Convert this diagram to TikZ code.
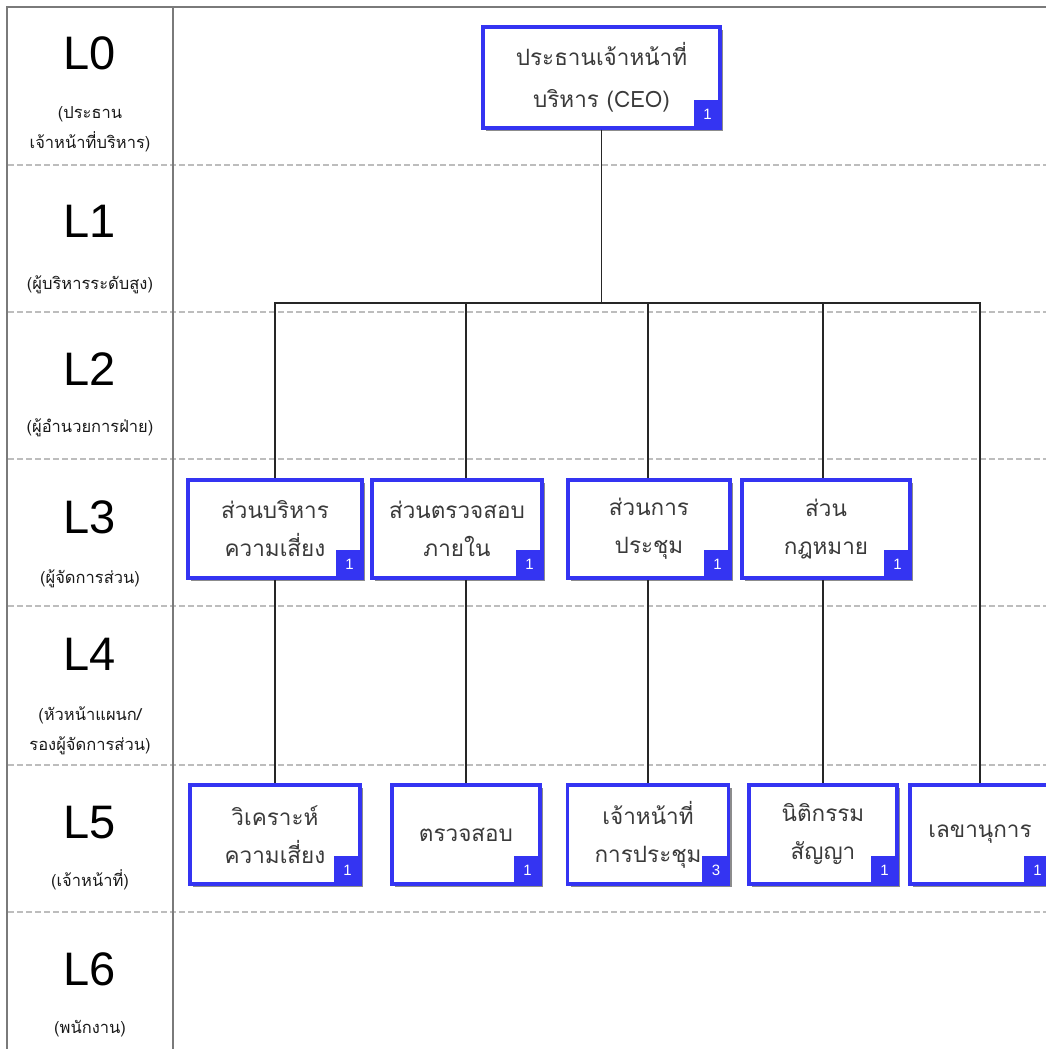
\documentclass[tikz,border=0pt]{standalone}
\usepackage{fontspec}
\setmainfont{Liberation Sans}
\newfontfamily\thai[Script=Thai]{Loma}
\usetikzlibrary{shadows}

\definecolor{unitblue}{HTML}{3434F2}
\definecolor{framegray}{HTML}{7A7A7A}
\definecolor{sepgray}{HTML}{BDBDBD}
\definecolor{labelgray}{HTML}{3A3A3A}

\tikzset{
  frame/.style={draw=framegray, line width=2pt},
  levelsep/.style={draw=sepgray, line width=1.4pt, dash pattern=on 6pt off 3pt},
  levelname/.style={anchor=base, text=black, font=\fontsize{47}{47}\selectfont},
  levelnote/.style={anchor=base, text=black!90, font=\thai\fontsize{16.5}{16.5}\selectfont},
  unit/.style={draw=unitblue, line width=3.5pt, fill=white, align=center,
    text=labelgray, inner sep=0pt,
    font=\thai\fontsize{22.5}{38}\selectfont,
    drop shadow={shadow xshift=3pt, shadow yshift=-3pt, fill=black, opacity=0.45}},
  badge/.style={fill=unitblue, text=white, anchor=south east, inner sep=0pt,
    minimum width=28pt, minimum height=30pt, font=\fontsize{15}{15}\selectfont},
  link/.style={draw=black!85, line width=1.5pt}
}

\begin{document}
\begin{tikzpicture}[x=1pt,y=1pt]
\useasboundingbox (0,0) rectangle (1046,-1049);
\clip (0,0) rectangle (1046,-1049);
\fill[white] (0,0) rectangle (1046,-1049);

% level grid
\foreach \yy in {165,312,459,606,765,912}
  \draw[levelsep] (8,-\yy) -- (1046,-\yy);
\draw[frame] (7,-1049) -- (7,-7) -- (1046,-7);
\draw[frame] (173,-7) -- (173,-1049);

% level captions
\node[levelname] (l0) at (90,-70) {L0};
\node[levelnote] (l0a) at (90,-118) {(ประธาน};
\node[levelnote] (l0b) at (90,-148) {เจ้าหน้าที่บริหาร)};
\node[levelname] (l1) at (90,-237) {L1};
\node[levelnote] (l1a) at (90,-289) {(ผู้บริหารระดับสูง)};
\node[levelname] (l2) at (90,-385) {L2};
\node[levelnote] (l2a) at (90,-432) {(ผู้อำนวยการฝ่าย)};
\node[levelname] (l3) at (90,-533) {L3};
\node[levelnote] (l3a) at (90,-583) {(ผู้จัดการส่วน)};
\node[levelname] (l4) at (90,-670) {L4};
\node[levelnote] (l4a) at (90,-720) {(หัวหน้าแผนก/};
\node[levelnote] (l4b) at (90,-750) {รองผู้จัดการส่วน)};
\node[levelname] (l5) at (90,-838) {L5};
\node[levelnote] (l5a) at (90,-886) {(เจ้าหน้าที่)};
\node[levelname] (l6) at (90,-985) {L6};
\node[levelnote] (l6a) at (90,-1033) {(พนักงาน)};

% units
\node[unit, minimum width=237pt, minimum height=101pt,
  font=\thai\fontsize{22.5}{42}\selectfont] (ceo) at (601.5,-77.5)
  {ประธานเจ้าหน้าที่\\บริหาร (CEO)};

\node[unit, minimum width=174pt, minimum height=98pt] (s1) at (275,-529)
  {ส่วนบริหาร\\ความเสี่ยง};
\node[unit, minimum width=170pt, minimum height=98pt] (s2) at (457,-529)
  {ส่วนตรวจสอบ\\ภายใน};
\node[unit, minimum width=162pt, minimum height=98pt] (s3) at (649,-529)
  {ส่วนการ\\ประชุม};
\node[unit, minimum width=168pt, minimum height=98pt] (s4) at (826,-529)
  {ส่วน\\กฎหมาย};

\node[unit, minimum width=170pt, minimum height=99pt] (e1) at (275,-834.5)
  {วิเคราะห์\\ความเสี่ยง};
\node[unit, minimum width=148pt, minimum height=99pt] (e2) at (466,-834.5)
  {ตรวจสอบ};
\node[unit, minimum width=161pt, minimum height=99pt] (e3) at (648,-834.5)
  {เจ้าหน้าที่\\การประชุม};
\node[unit, minimum width=148pt, minimum height=99pt] (e4) at (823,-834.5)
  {นิติกรรม\\สัญญา};
\node[unit, minimum width=140pt, minimum height=99pt] (e5) at (980,-834.5)
  {เลขานุการ};

% head-count badges
\node[badge] (bceo) at (ceo.south east) {1};
\node[badge] (bs1) at (s1.south east) {1};
\node[badge] (bs2) at (s2.south east) {1};
\node[badge] (bs3) at (s3.south east) {1};
\node[badge] (bs4) at (s4.south east) {1};
\node[badge] (be1) at (e1.south east) {1};
\node[badge] (be2) at (e2.south east) {1};
\node[badge] (be3) at (e3.south east) {3};
\node[badge] (be4) at (e4.south east) {1};
\node[badge] (be5) at (e5.south east) {1};

% reporting lines
\coordinate (bus) at (0,-303);
\draw[link] (ceo.south) |- (bus -| e1.north) -- (s1.north -| e1.north);
\draw[link] (ceo.south) |- (bus -| e2.north) -- (s2.north -| e2.north);
\draw[link] (ceo.south) |- (bus -| e3.north) -- (s3.north -| e3.north);
\draw[link] (ceo.south) |- (bus -| e4.north) -- (s4.north -| e4.north);
\draw[link] (ceo.south) |- (bus -| e5.north) -- (e5.north);
\draw[link] (s1.south -| e1.north) -- (e1.north);
\draw[link] (s2.south -| e2.north) -- (e2.north);
\draw[link] (s3.south -| e3.north) -- (e3.north);
\draw[link] (s4.south -| e4.north) -- (e4.north);
\end{tikzpicture}
\end{document}
